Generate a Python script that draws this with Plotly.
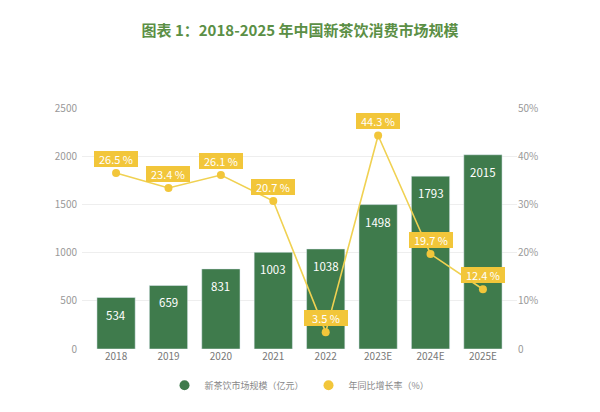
import plotly.graph_objects as go

categories = ["2018", "2019", "2020", "2021", "2022", "2023E", "2024E", "2025E"]
market_size = [534, 659, 831, 1003, 1038, 1498, 1793, 2015]
growth_plotted = [36.5, 33.4, 36.1, 30.7, 3.5, 44.3, 19.7, 12.4]
growth_labels = ["26.5 %", "23.4 %", "26.1 %", "20.7 %", "3.5 %", "44.3 %", "19.7 %", "12.4 %"]
left_ticks = [0, 500, 1000, 1500, 2000, 2500]
right_ticks = [0, 10, 20, 30, 40, 50]
right_ticktext = ["0", "10%", "20%", "30%", "40%", "50%"]

GREEN = "#3f7b4c"
YELLOW = "#f2c63a"
LINE_Y = "#f0d152"
FONT = "Noto Sans CJK SC, Noto Sans, sans-serif"

fig = go.Figure()
fig.add_trace(go.Bar(x=categories, y=market_size, marker_color=GREEN, width=0.73,
                     showlegend=False, yaxis="y"))
fig.add_trace(go.Scatter(x=categories, y=growth_plotted, mode="lines+markers", yaxis="y2",
                         line=dict(color=LINE_Y, width=1.6),
                         marker=dict(color=YELLOW, size=8), showlegend=False))
# legend entries
fig.add_trace(go.Scatter(x=[None], y=[None], mode="markers", name="新茶饮市场规模（亿元）",
                         marker=dict(color=GREEN, size=10, symbol="circle")))
fig.add_trace(go.Scatter(x=[None], y=[None], mode="markers", name="年同比增长率（%）",
                         marker=dict(color=YELLOW, size=10, symbol="circle")))

annotations = []
for i, v in enumerate(market_size):
    annotations.append(dict(x=i, y=v, xref="x", yref="y", text=str(v), showarrow=False,
                            yshift=-17, font=dict(color="white", size=11.5, family=FONT)))
for i, (v, t) in enumerate(zip(growth_plotted, growth_labels)):
    annotations.append(dict(x=i, y=v, xref="x", yref="y2", text=t, showarrow=False,
                            yshift=14, bgcolor=YELLOW, bordercolor=YELLOW, borderwidth=1,
                            borderpad=1, width=40, height=12,
                            font=dict(color="white", size=11, family=FONT)))

fig.update_layout(
    width=600, height=412,
    margin=dict(l=82, r=83, t=108, b=63),
    paper_bgcolor="white", plot_bgcolor="white",
    font=dict(family=FONT, color="#888888", size=10),
    title=dict(text="<b>图表 1：2018-2025 年中国新茶饮消费市场规模</b>", x=0.5, xanchor="center",
               y=0.925, yanchor="middle",
               font=dict(size=15, color="#5b8f45", family=FONT)),
    xaxis=dict(range=[-0.65, 7.65], showgrid=False, zeroline=False, showline=False,
               ticks="", tickfont=dict(size=10, color="#777777")),
    yaxis=dict(range=[0, 2500], tickvals=left_ticks, showgrid=True, gridcolor="#eeeeee",
               gridwidth=1, zeroline=False, showline=False, ticks="",
               tickfont=dict(size=10, color="#999999"), ticklabelstandoff=4),
    yaxis2=dict(range=[0, 50], overlaying="y", side="right", tickvals=right_ticks,
                ticktext=right_ticktext, showgrid=False, zeroline=False, showline=False,
                tickfont=dict(size=10, color="#999999")),
    legend=dict(orientation="h", x=0.5, xanchor="center", y=-0.09, yanchor="top",
                font=dict(size=9, color="#888888"), itemwidth=30),
    annotations=annotations,
    bargap=0.2,
)

fig.write_html("out.html")
